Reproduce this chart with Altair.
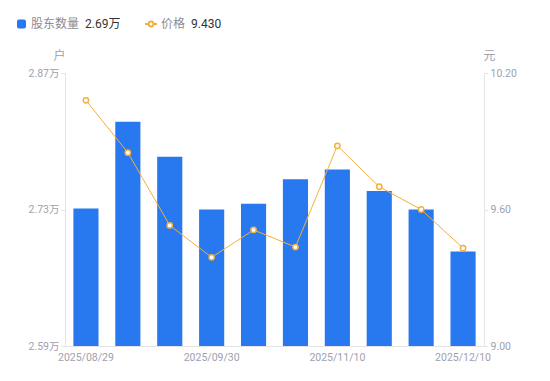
import altair as alt
import pandas as pd

dates = ["2025/08/29", "2025/09/10", "2025/09/19", "2025/09/30", "2025/10/20",
         "2025/10/31", "2025/11/10", "2025/11/20", "2025/11/30", "2025/12/10"]
holders = [2.731, 2.820, 2.784, 2.730, 2.736, 2.761, 2.771, 2.749, 2.730, 2.687]
prices = [10.08, 9.85, 9.53, 9.39, 9.51, 9.435, 9.88, 9.70, 9.60, 9.43]

left_ticks = [2.59, 2.73, 2.87]
right_ticks = [9.00, 9.60, 10.20]
x_label_dates = [dates[0], dates[3], dates[6], dates[9]]

BLUE = "#2878f0"
ORANGE = "#f7ae3c"
GREY = "#a0a0ae"
FONT = "Roboto, 'Noto Sans CJK SC', sans-serif"
LFS = 10.5

df = pd.DataFrame({"date": dates, "holders": holders, "price": prices})

x_enc = alt.X("date:N", sort=None, title=None,
              scale=alt.Scale(paddingInner=0.4, paddingOuter=0.2),
              axis=alt.Axis(values=x_label_dates, labelAngle=0, ticks=False, grid=False,
                            domainColor="#e3e3e8", labelColor=GREY, labelFontSize=LFS,
                            labelPadding=6, labelFont=FONT))

bars = alt.Chart(df).mark_bar(color=BLUE, clip=True).encode(
    x=x_enc,
    y=alt.Y("holders:Q", title="户",
            scale=alt.Scale(domain=[left_ticks[0], left_ticks[-1]], nice=False, zero=False),
            axis=alt.Axis(orient="left", values=left_ticks, grid=False,
                          labelExpr="format(datum.value, '.2f') + '万'",
                          domainColor="#e3e3e8", tickColor="#e3e3e8", tickSize=4,
                          labelColor=GREY, labelFontSize=LFS, labelFont=FONT,
                          titleAngle=0, titleX=-6, titleY=-11, titleAlign="center",
                          titleBaseline="bottom", titleColor=GREY, titleFontWeight="normal",
                          titleFontSize=12, titleFont=FONT)),
    y2=alt.datum(left_ticks[0]),
)

price_y = alt.Y("price:Q", title="元",
                scale=alt.Scale(domain=[right_ticks[0], right_ticks[-1]], nice=False, zero=False),
                axis=alt.Axis(orient="right", values=right_ticks, grid=False, format=".2f",
                              domainColor="#e3e3e8", tickColor="#e3e3e8", tickSize=4,
                              labelColor=GREY, labelFontSize=LFS, labelFont=FONT,
                              titleAngle=0, titleX=5, titleY=-11, titleAlign="center",
                              titleBaseline="bottom", titleColor=GREY, titleFontWeight="normal",
                              titleFontSize=12, titleFont=FONT))

line = alt.Chart(df).mark_line(color=ORANGE, strokeWidth=1).encode(x=x_enc, y=price_y)
pts = alt.Chart(df).mark_point(shape="circle", filled=True, fill="white", stroke=ORANGE,
                               strokeWidth=1.5, size=28, opacity=1).encode(x=x_enc, y=price_y)
price_layer = alt.layer(line, pts)

# legend
one = pd.DataFrame({"a": [0]})
leg_y = -49
leg_sq = alt.Chart(one).mark_rect(color=BLUE, cornerRadius=2).encode(
    x=alt.value(-48), x2=alt.value(-39), y=alt.value(leg_y - 4.5), y2=alt.value(leg_y + 4.5))
leg_t1 = alt.Chart(pd.DataFrame({"t": ["股东数量"]})).mark_text(
    align="left", baseline="middle", fontSize=12, color="#8c8c96", font=FONT).encode(
    x=alt.value(-34), y=alt.value(leg_y), text="t:N")
leg_v1 = alt.Chart(pd.DataFrame({"t": [f"{holders[-1]:.2f}万"]})).mark_text(
    align="left", baseline="middle", fontSize=12, color="#333333", font=FONT).encode(
    x=alt.value(20), y=alt.value(leg_y), text="t:N")
leg_ln = alt.Chart(one).mark_rule(color=ORANGE, strokeWidth=2).encode(
    x=alt.value(80), x2=alt.value(92), y=alt.value(leg_y))
leg_pt = alt.Chart(one).mark_point(shape="circle", filled=True, fill="white", stroke=ORANGE,
                                   strokeWidth=2, size=24, opacity=1).encode(
    x=alt.value(86), y=alt.value(leg_y))
leg_t2 = alt.Chart(pd.DataFrame({"t": ["价格"]})).mark_text(
    align="left", baseline="middle", fontSize=12, color="#8c8c96", font=FONT).encode(
    x=alt.value(96), y=alt.value(leg_y), text="t:N")
leg_v2 = alt.Chart(pd.DataFrame({"t": [f"{prices[-1]:.3f}"]})).mark_text(
    align="left", baseline="middle", fontSize=12, color="#333333", font=FONT).encode(
    x=alt.value(126), y=alt.value(leg_y), text="t:N")

chart = alt.layer(bars, price_layer, leg_sq, leg_t1, leg_v1, leg_ln, leg_pt, leg_t2, leg_v2).resolve_scale(
    y="independent"
).properties(
    width=419, height=273,
    autosize=alt.AutoSizeParams(type="none"),
    padding={"left": 57, "top": 65, "right": 58, "bottom": 27},
).configure(font=FONT).configure_view(strokeWidth=0, stroke="transparent")

chart.save("out.html", embed_options={"renderer": "svg", "actions": False})
